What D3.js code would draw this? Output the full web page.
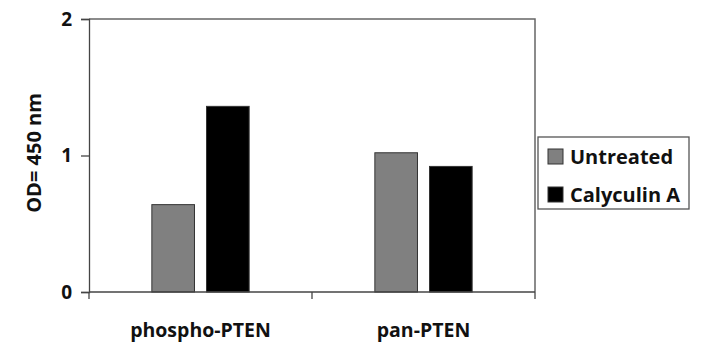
<!DOCTYPE html>
<html>
<head>
<meta charset="utf-8">
<script src="https://cdn.jsdelivr.net/npm/d3@7"></script>
<style>
  body { margin: 0; background: #fff; }
  text { font-family: "Open Sans", "Noto Sans", sans-serif; font-weight: bold; fill: #111; }
</style>
</head>
<body>
<script>
// chart data
const categories = ["phospho-PTEN", "pan-PTEN"];
const seriesNames = ["Untreated", "Calyculin A"];
const untreated = [0.64, 1.02];
const calyculin = [1.36, 0.92];
const yTicks = [0, 1, 2];
const seriesColors = ["#808080", "#000000"];

const width = 704, height = 362;
const margin = {top: 19, right: 170, bottom: 70, left: 89};

const svg = d3.select("body").append("svg")
    .attr("width", width)
    .attr("height", height);

const x = d3.scaleBand()
    .domain(categories)
    .range([margin.left, 535])
    .paddingInner(0)
    .paddingOuter(0);

const xSub = d3.scaleBand()
    .domain(seriesNames)
    .range([0, x.bandwidth()])
    .paddingInner(0.22)
    .paddingOuter(1.15);

const y = d3.scaleLinear()
    .domain([0, 2])
    .range([292, margin.top]);

const values = [untreated, calyculin];
const rows = [];
categories.forEach((c, i) => {
    seriesNames.forEach((s, j) => {
        rows.push({cat: c, series: s, value: values[j][i], color: seriesColors[j]});
    });
});

// plot area border (top + right)
svg.append("path")
    .attr("d", `M${margin.left},${y(2)}H${x.range()[1]}V${y(0)}`)
    .attr("fill", "none")
    .attr("stroke", "#666")
    .attr("stroke-width", 1.5);

// bars
svg.append("g").selectAll("rect")
    .data(rows)
    .join("rect")
    .attr("x", d => x(d.cat) + xSub(d.series))
    .attr("y", d => y(d.value))
    .attr("width", xSub.bandwidth())
    .attr("height", d => y(0) - y(d.value))
    .attr("fill", d => d.color)
    .attr("stroke", "#333")
    .attr("stroke-width", 1);

// y axis
const yAxis = svg.append("g")
    .attr("transform", `translate(${margin.left},0)`)
    .call(d3.axisLeft(y).tickValues(yTicks).tickFormat(d3.format("d")).tickSize(8).tickPadding(9));
yAxis.select(".domain").attr("stroke", "#444").attr("stroke-width", 1.3);
yAxis.selectAll(".tick line").attr("stroke", "#444").attr("stroke-width", 1.3);
yAxis.selectAll(".tick text")
    .attr("font-size", 19)
    .attr("font-family", "Open Sans, sans-serif")
    .attr("font-weight", "bold")
    .attr("fill", "#111");

// x axis: line with ticks between categories
const xAxisG = svg.append("g");
xAxisG.append("line")
    .attr("x1", x.range()[0]).attr("x2", x.range()[1])
    .attr("y1", y(0)).attr("y2", y(0))
    .attr("stroke", "#444").attr("stroke-width", 1.3);
const boundaries = categories.map(c => x(c)).concat([x.range()[1]]);
xAxisG.selectAll("line.tk")
    .data(boundaries)
    .join("line")
    .attr("class", "tk")
    .attr("x1", d => d).attr("x2", d => d)
    .attr("y1", y(0)).attr("y2", y(0) + 7)
    .attr("stroke", "#444").attr("stroke-width", 1.3);
xAxisG.selectAll("text")
    .data(categories)
    .join("text")
    .attr("x", d => x(d) + x.bandwidth() / 2)
    .attr("y", 337)
    .attr("text-anchor", "middle")
    .attr("font-size", 19.5)
    .text(d => d);

// y axis title
svg.append("text")
    .attr("transform", `translate(41,153) rotate(-90)`)
    .attr("text-anchor", "middle")
    .attr("font-size", 20)
    .attr("font-weight", 600)
    .text("OD= 450 nm");

// legend
const legend = svg.append("g");
legend.append("rect")
    .attr("x", 538).attr("y", 137)
    .attr("width", 151).attr("height", 72)
    .attr("fill", "#fff")
    .attr("stroke", "#555")
    .attr("stroke-width", 1.3);
const legendItems = legend.selectAll("g.item")
    .data(seriesNames)
    .join("g")
    .attr("class", "item")
    .attr("transform", (d, i) => `translate(548,${149 + i * 38})`);
legendItems.append("rect")
    .attr("width", 15).attr("height", 15)
    .attr("fill", (d, i) => seriesColors[i])
    .attr("stroke", "#333");
legendItems.append("text")
    .attr("x", 22).attr("y", 15)
    .attr("font-size", 20)
    .text(d => d);
</script>
</body>
</html>
